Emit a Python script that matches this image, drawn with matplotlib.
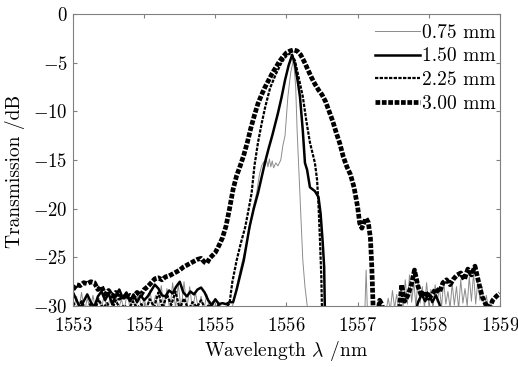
import matplotlib
matplotlib.use("Agg")
import matplotlib.pyplot as plt

plt.rcParams['font.family'] = 'serif'
plt.rcParams['font.serif'] = ['cmr10', 'DejaVu Serif']
plt.rcParams['mathtext.fontset'] = 'cm'
plt.rcParams['axes.formatter.use_mathtext'] = True

labels = ['0.75 mm', '1.50 mm', '2.25 mm', '3.00 mm']

# 0.75 mm (thin gray)
x075 = [1553.00, 1553.05, 1553.08, 1553.12, 1553.16, 1553.20, 1553.24, 1553.28, 1553.32, 1553.36,
        1553.40, 1553.44, 1553.48, 1553.52, 1553.56, 1553.60, 1553.64, 1553.68, 1553.72, 1553.76,
        1553.80, 1553.84, 1553.88, 1553.92, 1553.96, 1554.00, 1554.04, 1554.08, 1554.12, 1554.16,
        1554.20, 1554.24, 1554.28, 1554.32, 1554.36, 1554.40, 1554.44, 1554.48, 1554.52, 1554.56,
        1554.60, 1554.64, 1554.68, 1554.72, 1554.76, 1554.80, 1554.84, 1554.88, 1554.92, 1554.96,
        1555.00, 1555.05, 1555.10, 1555.15, 1555.20, 1555.25, 1555.30, 1555.35, 1555.40, 1555.45,
        1555.49, 1555.53, 1555.58, 1555.62, 1555.65, 1555.68, 1555.70, 1555.72, 1555.74, 1555.76,
        1555.78, 1555.80, 1555.82, 1555.85, 1555.88, 1555.92, 1555.95, 1555.98, 1556.02, 1556.06,
        1556.10, 1556.13, 1556.15, 1556.17, 1556.19, 1556.21, 1556.23, 1556.26, 1556.30, 1557.10,
        1557.12, 1557.14, 1557.40, 1557.43, 1557.46, 1557.49, 1557.52, 1557.55, 1557.58, 1557.61,
        1557.64, 1557.67, 1557.70, 1557.73, 1557.76, 1557.79, 1557.82, 1557.85, 1557.88, 1557.91,
        1557.94, 1557.97, 1558.00, 1558.03, 1558.06, 1558.09, 1558.12, 1558.15, 1558.18, 1558.21,
        1558.24, 1558.27, 1558.30, 1558.33, 1558.36, 1558.39, 1558.42, 1558.45, 1558.48, 1558.51,
        1558.54, 1558.57, 1558.60, 1558.63, 1558.66, 1558.69, 1558.72, 1558.75, 1558.78, 1558.81,
        1558.84, 1558.87, 1558.90]
y075 = [-30.5, -29.0, -30.4, -28.6, -30.6, -29.2, -30.3, -28.9, -30.5, -29.4,
        -30.2, -28.8, -30.6, -29.1, -30.4, -28.7, -30.3, -29.3, -30.5, -28.6,
        -30.2, -29.0, -30.6, -28.5, -30.3, -29.2, -30.5, -28.4, -30.2, -28.9,
        -30.4, -27.9, -30.3, -28.2, -30.5, -27.6, -30.2, -27.8, -30.4, -27.5,
        -30.3, -28.0, -30.5, -28.6, -30.2, -29.0, -30.4, -28.8, -30.5, -29.5,
        -30.3, -29.6, -30.4, -30.1, -30.5, -29.8, -28.0, -26.3, -24.8, -23.2,
        -21.9, -20.0, -18.4, -16.5, -15.6, -15.2, -15.6, -15.0, -15.7, -14.9,
        -15.7, -15.1, -15.8, -15.3, -15.6, -15.0, -13.5, -12.5, -8.5, -6.0,
        -4.7, -7.5, -12.0, -15.3, -18.4, -22.0, -25.3, -28.0, -30.5, -31.0,
        -26.3, -31.0, -30.5, -29.2, -30.4, -28.4, -30.2, -28.8, -30.5, -27.9,
        -30.1, -27.3, -29.8, -26.8, -29.6, -27.5, -30.0, -27.2, -29.7, -28.0,
        -30.2, -27.6, -29.9, -28.3, -30.3, -27.8, -29.6, -28.1, -30.1, -27.4,
        -29.8, -28.5, -30.2, -27.7, -29.9, -28.0, -30.3, -27.3, -29.7, -28.2,
        -30.0, -27.0, -29.5, -26.6, -29.8, -27.4, -29.4, -28.0, -30.2, -28.9,
        -30.4, -29.5, -30.5]

# 1.50 mm (solid black)
x150 = [1553.00, 1553.05, 1553.10, 1553.15, 1553.20, 1553.25, 1553.30, 1553.35, 1553.40, 1553.45,
        1553.50, 1553.55, 1553.60, 1553.65, 1553.70, 1553.75, 1553.80, 1553.85, 1553.90, 1553.95,
        1554.00, 1554.05, 1554.10, 1554.15, 1554.20, 1554.25, 1554.30, 1554.35, 1554.40, 1554.45,
        1554.50, 1554.55, 1554.60, 1554.65, 1554.70, 1554.75, 1554.80, 1554.85, 1554.90, 1554.95,
        1555.00, 1555.05, 1555.10, 1555.15, 1555.20, 1555.25, 1555.30, 1555.35, 1555.40, 1555.48,
        1555.54, 1555.60, 1555.65, 1555.70, 1555.75, 1555.80, 1555.88, 1555.93, 1555.98, 1556.03,
        1556.08, 1556.12, 1556.16, 1556.19, 1556.23, 1556.26, 1556.29, 1556.33, 1556.40, 1556.45,
        1556.48, 1556.51, 1556.53, 1556.54, 1557.80, 1557.85, 1557.90, 1557.95, 1558.00, 1558.05,
        1558.10, 1558.15, 1558.20]
y150 = [-28.6, -29.4, -30.2, -29.5, -28.8, -29.6, -30.1, -29.0, -28.5, -29.4,
        -28.7, -29.8, -28.9, -28.3, -29.2, -28.6, -29.5, -28.8, -29.6, -28.9,
        -29.4, -29.0, -28.4, -27.8, -28.2, -28.9, -29.0, -28.4, -28.7, -28.0,
        -27.5, -28.6, -29.0, -28.5, -28.8, -28.3, -28.1, -28.6, -29.4, -29.9,
        -29.3, -29.8, -29.7, -29.8, -29.6, -29.6, -28.3, -26.8, -25.3, -21.9,
        -20.0, -18.4, -16.8, -15.2, -13.8, -12.5, -10.2, -8.6, -6.8, -5.3,
        -4.2, -5.2, -7.0, -8.5, -12.0, -15.3, -16.0, -17.8, -18.2, -18.8,
        -20.5, -23.5, -26.0, -30.5, -31.0, -29.6, -28.8, -29.5, -28.7, -29.6,
        -28.9, -29.8, -31.0]

# 2.25 mm (dotted black)
x225 = [1553.00, 1553.06, 1553.12, 1553.18, 1553.24, 1553.30, 1553.36, 1553.42, 1553.48, 1553.54,
        1553.60, 1553.66, 1553.72, 1553.78, 1553.84, 1553.90, 1553.96, 1554.02, 1554.08, 1554.14,
        1554.20, 1554.26, 1554.32, 1554.38, 1554.44, 1554.50, 1554.56, 1554.62, 1554.68, 1554.74,
        1554.80, 1554.86, 1554.92, 1554.98, 1555.04, 1555.10, 1555.15, 1555.20, 1555.24, 1555.30,
        1555.36, 1555.42, 1555.47, 1555.51, 1555.55, 1555.60, 1555.65, 1555.70, 1555.77, 1555.85,
        1555.93, 1556.00, 1556.06, 1556.12, 1556.18, 1556.23, 1556.28, 1556.33, 1556.40, 1556.43,
        1556.45, 1556.47, 1556.49, 1556.50]
y225 = [-29.6, -30.3, -29.5, -30.4, -29.8, -30.5, -29.3, -30.2, -29.7, -30.5,
        -29.4, -30.3, -29.9, -30.4, -29.5, -30.2, -29.8, -30.4, -29.3, -30.1,
        -28.6, -30.2, -28.8, -29.9, -28.5, -30.3, -29.2, -30.4, -29.6, -30.1,
        -29.4, -30.3, -29.8, -30.5, -29.9, -30.4, -30.2, -29.7, -27.5, -25.3,
        -23.5, -21.9, -20.0, -18.4, -15.6, -13.2, -11.3, -9.6, -7.6, -6.2,
        -5.0, -4.3, -4.0, -4.8, -6.8, -8.5, -11.0, -13.2, -15.3, -17.0,
        -19.5, -23.0, -27.0, -30.5]

# 3.00 mm (thick dashed black)
x300 = [1553.00, 1553.05, 1553.10, 1553.15, 1553.20, 1553.25, 1553.30, 1553.35, 1553.40, 1553.45,
        1553.50, 1553.55, 1553.60, 1553.65, 1553.70, 1553.75, 1553.80, 1553.85, 1553.90, 1553.95,
        1554.00, 1554.05, 1554.10, 1554.15, 1554.20, 1554.25, 1554.30, 1554.35, 1554.40, 1554.45,
        1554.50, 1554.55, 1554.60, 1554.65, 1554.70, 1554.75, 1554.80, 1554.85, 1554.88, 1554.92,
        1555.00, 1555.05, 1555.10, 1555.15, 1555.20, 1555.25, 1555.30, 1555.35, 1555.40, 1555.45,
        1555.50, 1555.55, 1555.60, 1555.65, 1555.70, 1555.75, 1555.80, 1555.85, 1555.90, 1555.95,
        1556.00, 1556.05, 1556.10, 1556.15, 1556.20, 1556.25, 1556.30, 1556.35, 1556.40, 1556.45,
        1556.50, 1556.55, 1556.60, 1556.65, 1556.70, 1556.75, 1556.80, 1556.85, 1556.90, 1556.95,
        1557.00, 1557.03, 1557.06, 1557.09, 1557.12, 1557.15, 1557.18, 1557.20, 1557.22, 1557.28,
        1557.31, 1557.34, 1557.38, 1557.58, 1557.62, 1557.66, 1557.70, 1557.75, 1557.80, 1557.85,
        1557.90, 1557.95, 1558.00, 1558.05, 1558.10, 1558.15, 1558.20, 1558.25, 1558.30, 1558.35,
        1558.40, 1558.45, 1558.50, 1558.55, 1558.60, 1558.65, 1558.70, 1558.75, 1558.80, 1558.85,
        1558.90, 1558.95, 1559.00]
y300 = [-28.3, -27.8, -27.9, -27.6, -27.7, -27.5, -27.6, -28.3, -28.0, -28.8,
        -28.4, -29.0, -28.6, -29.2, -28.8, -29.3, -28.9, -29.1, -28.6, -28.9,
        -28.3, -28.0, -27.6, -27.2, -27.1, -27.3, -27.0, -26.9, -26.7, -26.5,
        -26.3, -26.0, -25.8, -25.6, -25.4, -25.2, -25.1, -25.5, -25.6, -25.1,
        -24.5, -23.8, -23.0, -21.8, -20.0, -18.0, -16.6, -15.6, -14.5, -13.2,
        -11.7, -10.4, -9.2, -8.3, -7.5, -6.8, -6.1, -5.5, -4.9, -4.4,
        -4.0, -3.8, -3.7, -3.8, -4.2, -4.9, -5.7, -6.5, -7.2, -7.8,
        -8.3, -9.0, -10.0, -11.0, -12.2, -13.3, -14.7, -15.7, -16.5, -17.8,
        -19.8, -21.5, -22.0, -21.4, -21.0, -21.4, -23.0, -26.0, -30.5, -31.0,
        -29.4, -29.8, -31.0, -31.0, -27.8, -29.5, -29.0, -28.0, -26.3, -28.0,
        -29.0, -28.5, -29.2, -28.8, -28.2, -28.6, -27.6, -27.3, -27.8, -27.2,
        -26.8, -26.6, -27.3, -26.2, -26.8, -25.9, -27.5, -29.0, -29.8, -30.2,
        -29.4, -29.0, -28.7]

fig = plt.figure(figsize=(5.18, 3.67), dpi=100)
ax = fig.add_axes([0.141, 0.166, 0.824, 0.796])

ax.plot(x075, y075, color='#8c8c8c', lw=0.7, label=labels[0])
ax.plot(x150, y150, color='black', lw=1.8, label=labels[1])
ax.plot(x225, y225, color='black', lw=1.6, linestyle=(0, (1.5, 0.6)), label=labels[2])
ax.plot(x300, y300, color='black', lw=3.4, linestyle=(0, (1.0, 0.35)), label=labels[3])

ax.set_xlim(1553, 1559)
ax.set_ylim(-30, 0)
ax.set_xticks([1553, 1554, 1555, 1556, 1557, 1558, 1559])
ax.set_yticks([0, -5, -10, -15, -20, -25, -30])
ax.tick_params(direction='in', length=3, color='#808080', top=True, right=True,
               labelsize=13.5)
ax.tick_params(axis='x', pad=8)
ax.tick_params(axis='y', pad=4)
for s in ax.spines.values():
    s.set_color('#808080')
    s.set_linewidth(0.8)

ax.set_xlabel(r'Wavelength $\lambda$ /nm', fontsize=14, labelpad=3)
ax.set_ylabel('Transmission /dB', fontsize=14)
ax.yaxis.set_label_coords(-0.112, 0.46)

ax.legend(loc='upper right', frameon=False, fontsize=14, borderaxespad=0.3, borderpad=0.2,
          bbox_to_anchor=(1.013, 1.0),
          labelspacing=0.3, handlelength=2.3, handletextpad=0.1)

fig.savefig('out.png', dpi=100)
